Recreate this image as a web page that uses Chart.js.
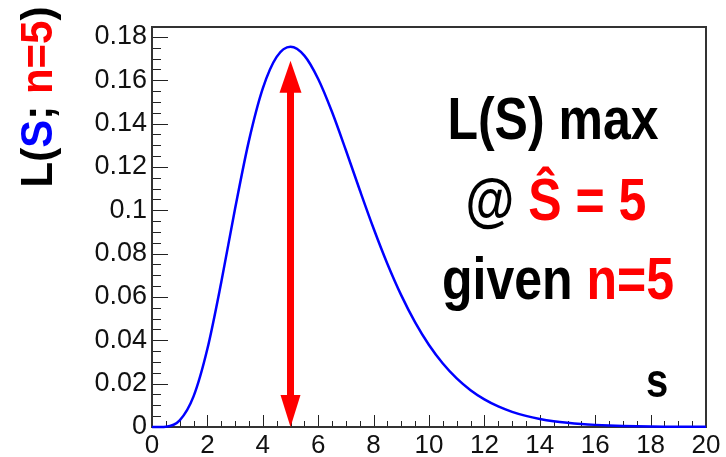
<!DOCTYPE html>
<html>
<head>
<meta charset="utf-8">
<script src="https://cdn.jsdelivr.net/npm/chart.js@4/dist/chart.umd.min.js"></script>
<style>
  html, body { margin: 0; padding: 0; background: #fff; }
  #wrap { width: 726px; height: 457px; }
</style>
</head>
<body>
<div id="wrap"><canvas id="likelihoodChart"></canvas></div>
<script>
  // valeurs
  const sValues = [0, 0.5, 1, 1.5, 2, 2.5, 3, 3.5, 4, 4.5, 5, 5.5, 6, 6.5, 7, 7.5, 8, 8.5, 9, 9.5, 10,
    10.5, 11, 11.5, 12, 12.5, 13, 13.5, 14, 14.5, 15, 15.5, 16, 16.5, 17, 17.5, 18, 18.5, 19, 19.5, 20];
  const likelihood = [0, 0.00016, 0.00307, 0.01412, 0.03609, 0.0668, 0.10082, 0.13217, 0.15629, 0.17083, 0.17547,
    0.1714, 0.16062, 0.14537, 0.12772, 0.10937, 0.0916, 0.07523, 0.06073, 0.04827, 0.03783,
    0.02929, 0.02242, 0.01698, 0.01274, 0.00948, 0.00699, 0.00512, 0.00373, 0.00269, 0.00194,
    0.00138, 0.00098, 0.0007, 0.00049, 0.00034, 0.00024, 0.00017, 0.00012, 0.00008, 0.00006];

  const xRange = [0, 20];
  const yRange = [0, 0.1846];

  // flèche rouge (S chapeau)
  const arrowS = 5;
  const arrowFrom = 0;
  const arrowTo = 0.169;

  const yTitle = [
    { t: 'L(', c: '#000000' }, { t: 'S', c: '#0000ff' }, { t: '; ', c: '#000000' },
    { t: 'n=5', c: '#ff0000' }, { t: ')', c: '#000000' }
  ];
  const noteLines = [
    [{ t: 'L(S) max', c: '#000000' }],
    [{ t: '@ ', c: '#000000' }, { t: 'Ŝ = 5', c: '#ff0000' }],
    [{ t: 'given ', c: '#000000' }, { t: 'n=5', c: '#ff0000' }]
  ];
  const xTitle = 's';

  const FONT = '"Liberation Sans", Arial, sans-serif';

  function drawSegments(ctx, segs, cx, cy, scaleY) {
    const w = segs.reduce((a, s) => a + ctx.measureText(s.t).width, 0);
    ctx.save();
    ctx.translate(cx, cy);
    ctx.scale(1, scaleY);
    let x = -w / 2;
    segs.forEach(s => {
      ctx.fillStyle = s.c;
      ctx.fillText(s.t, x, 0);
      x += ctx.measureText(s.t).width;
    });
    ctx.restore();
  }

  // cadre + graduations vers l'intérieur (style ROOT)
  const framePlugin = {
    id: 'frame',
    beforeDatasetsDraw(chart) {
      const { ctx, chartArea: a, scales: { x, y } } = chart;
      ctx.save();
      ctx.strokeStyle = '#222';
      ctx.lineWidth = 1;
      ctx.beginPath();
      for (let v = 0; v <= 20.001; v += 0.5) {
        const px = Math.round(x.getPixelForValue(v)) + 0.5;
        const len = (Math.abs(v / 2 - Math.round(v / 2)) < 1e-6) ? 12 : 6;
        ctx.moveTo(px, a.bottom);
        ctx.lineTo(px, a.bottom - len);
      }
      for (let v = 0; v <= 0.1801; v += 0.005) {
        const py = Math.round(y.getPixelForValue(v)) + 0.5;
        const len = (Math.abs(v / 0.02 - Math.round(v / 0.02)) < 1e-6) ? 16 : 9;
        ctx.moveTo(a.left, py);
        ctx.lineTo(a.left + len, py);
      }
      ctx.stroke();
      ctx.strokeStyle = '#333';
      ctx.lineWidth = 2;
      ctx.strokeRect(a.left, a.top, a.right - a.left, a.bottom - a.top);
      ctx.restore();
    },
    afterDatasetsDraw(chart) {
      const { ctx, scales: { x, y } } = chart;
      const px = x.getPixelForValue(arrowS);
      const top = y.getPixelForValue(arrowTo);
      const bot = y.getPixelForValue(arrowFrom);
      const headL = 32, headW = 11;
      ctx.save();
      ctx.fillStyle = '#ff0000';
      ctx.fillRect(px - 3.5, top + headL - 2, 7, bot - top - 2 * headL + 4);
      ctx.beginPath();
      ctx.moveTo(px, top);
      ctx.lineTo(px + headW, top + headL);
      ctx.lineTo(px - headW, top + headL);
      ctx.closePath();
      ctx.fill();
      ctx.beginPath();
      ctx.moveTo(px, bot);
      ctx.lineTo(px + headW - 1, bot - headL);
      ctx.lineTo(px - headW + 1, bot - headL);
      ctx.closePath();
      ctx.fill();
      ctx.restore();
    },
    afterDraw(chart) {
      const { ctx } = chart;
      ctx.save();
      ctx.textBaseline = 'alphabetic';
      ctx.textAlign = 'left';
      ctx.font = 'bold 50px ' + FONT;
      drawSegments(ctx, noteLines[0], 553, 139, 1.2);
      drawSegments(ctx, noteLines[1], 556, 220, 1.2);
      drawSegments(ctx, noteLines[2], 558, 299, 1.2);
      ctx.font = 'bold 40px ' + FONT;
      drawSegments(ctx, [{ t: xTitle, c: '#000000' }], 657, 397, 1.2);
      // titre de l'axe Y, tourné
      ctx.translate(52, 97);
      ctx.rotate(-Math.PI / 2);
      ctx.font = 'bold 42px ' + FONT;
      drawSegments(ctx, yTitle, 0, 0, 1.05);
      ctx.restore();
    }
  };

  const ctx = document.getElementById('likelihoodChart').getContext('2d');
  const likelihoodChart = new Chart(ctx, {
    type: 'line',
    data: {
      datasets: [{
        label: 'L(S; n=5)',
        data: sValues.map((s, i) => ({ x: s, y: likelihood[i] })),
        borderColor: '#0000ff',
        borderWidth: 2.5,
        pointRadius: 0,
        cubicInterpolationMode: 'monotone',
        fill: false,
        clip: 4
      }]
    },
    options: {
      responsive: true,
      maintainAspectRatio: false,
      animation: false,
      events: [],
      layout: { padding: { left: 0, right: 20, top: 27, bottom: 0 } },
      plugins: { legend: { display: false }, tooltip: { enabled: false } },
      scales: {
        x: {
          type: 'linear',
          min: xRange[0],
          max: xRange[1],
          afterFit: s => { s.height = 30; },
          grid: { display: false, drawTicks: false },
          border: { display: false },
          ticks: {
            stepSize: 2,
            padding: 3,
            maxRotation: 0,
            color: '#111',
            font: { family: FONT, size: 26 }
          }
        },
        y: {
          min: yRange[0],
          max: yRange[1],
          afterFit: s => { s.width = 152; },
          grid: { display: false, drawTicks: false },
          border: { display: false },
          ticks: {
            stepSize: 0.02,
            includeBounds: false,
            padding: 5,
            color: '#111',
            font: { family: FONT, size: 27 },
            callback: v => String(+v.toFixed(2))
          }
        }
      }
    },
    plugins: [framePlugin]
  });
</script>
</body>
</html>
